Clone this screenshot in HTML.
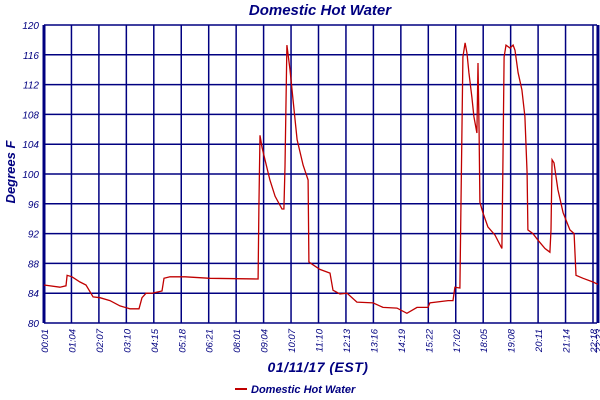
<!DOCTYPE html>
<html><head><meta charset="utf-8"><style>
body{margin:0;background:#fff;}
svg{display:block;font-family:"Liberation Sans",sans-serif;}
</style></head><body>
<svg id="chart" width="600" height="400">
<text x="320" y="15" text-anchor="middle" font-size="15" font-weight="bold" font-style="italic" fill="#000080">Domestic Hot Water</text>
<text transform="translate(15,172) rotate(-90)" text-anchor="middle" font-size="13" font-weight="bold" font-style="italic" fill="#000080">Degrees F</text>
<text x="318" y="372" text-anchor="middle" font-size="14" font-weight="bold" font-style="italic" fill="#000080" letter-spacing="0.5">01/11/17 (EST)</text>
<g>
<line x1="235" y1="389" x2="247" y2="389" stroke="#c00000" stroke-width="2"/>
<text x="251" y="393" font-size="11" font-weight="bold" font-style="italic" fill="#000080">Domestic Hot Water</text>
</g>
<g id="grid"></g><g id="ticks"></g><g id="series"></g>
</svg>
<script>
const yTicks=[80,84,88,92,96,100,104,108,112,116,120];
const xLabels=["00:01","01:04","02:07","03:10","04:15","05:18","06:21","08:01","09:04","10:07","11:10","12:13","13:16","14:19","15:22","17:02","18:05","19:08","20:11","21:14","22:18","22:23"];
const xLabelPos=[0,1,2,3,4,5,6,7,8,9,10,11,12,13,14,15,16,17,18,19,20,20.18];
const times=[0,0.58,0.80,0.84,1.02,1.31,1.53,1.79,2.04,2.40,2.77,3.13,3.46,3.57,3.72,3.93,4.30,4.37,4.59,5.14,6.05,7.80,7.83,7.87,7.94,8.05,8.23,8.42,8.67,8.74,8.78,8.85,8.96,9.07,9.22,9.44,9.62,9.65,9.76,10.05,10.42,10.53,10.78,11.04,11.40,11.99,12.35,12.86,13.22,13.59,13.99,14.06,14.72,14.90,14.97,15.15,15.19,15.26,15.34,15.41,15.48,15.59,15.66,15.77,15.81,15.85,15.88,15.99,16.17,16.43,16.68,16.72,16.76,16.83,16.98,17.09,17.16,17.27,17.41,17.52,17.60,17.63,17.81,18.00,18.25,18.43,18.47,18.51,18.58,18.72,18.91,19.16,19.31,19.38,19.64,20.0,20.18];
const temps=[85.1,84.8,85,86.4,86.2,85.5,85.1,83.5,83.4,83,82.3,81.9,81.9,83.4,84,84,84.3,86,86.2,86.2,86,85.9,95.6,105.2,103.6,101.9,99.2,97,95.3,95.3,101,117.3,114,110,104.6,101.2,99.2,88.2,87.9,87.2,86.7,84.4,83.9,84,82.8,82.7,82.1,82,81.3,82.1,82.1,82.7,83,83,84.8,84.7,96.2,115.7,117.6,116.2,113.6,110.3,107.7,105.5,114.9,105.6,96.2,94.8,92.9,91.8,90,102.3,115.7,117.3,116.9,117.3,116.6,113.6,111.3,107.7,100.1,92.5,92,91.1,90,89.5,92.5,101.9,101.5,97.9,94.8,92.5,92,86.4,86,85.5,85.2];
const L=44,R=597,T=25,B=323,step=27.45;
const sx=t=>L+t*step;
const sy=v=>B-(v-80)*(B-T)/40;
const NS="http://www.w3.org/2000/svg";
const grid=document.getElementById('grid'),ticks=document.getElementById('ticks'),ser=document.getElementById('series');
function mk(tag,attrs,parent){const e=document.createElementNS(NS,tag);for(const k in attrs)e.setAttribute(k,attrs[k]);parent.appendChild(e);return e;}
yTicks.forEach(v=>{
 const l=mk('line',{x1:L,x2:R,y1:sy(v),y2:sy(v),stroke:'#000080','stroke-width':1.5},grid);
 
 
 const t=mk('text',{x:L-5,y:sy(v)+4,'text-anchor':'end','font-size':10,'font-style':'italic',fill:'#000080'},ticks);
 t.textContent=v;
 
 
});
xLabels.forEach((s,i)=>{
 const x=sx(xLabelPos[i]);
 const l=mk('line',{x1:x,x2:x,y1:T,y2:B,stroke:'#000080','stroke-width':(i==0||i==xLabels.length-1)?3:1.5},grid);
 
 
 const t=mk('text',{transform:`translate(${x+4},${B+6}) rotate(-90)`,'text-anchor':'end','font-size':9.5,'font-style':'italic',fill:'#000080'},ticks);
 t.textContent=s;
 
 
});
const d=times.map((t,i)=>(i?'L':'M')+sx(t).toFixed(1)+','+sy(temps[i]).toFixed(1)).join(' ');
const p=mk('path',{d:d,fill:'none',stroke:'#c00000','stroke-width':1.3},ser);


</script>
</body></html>
